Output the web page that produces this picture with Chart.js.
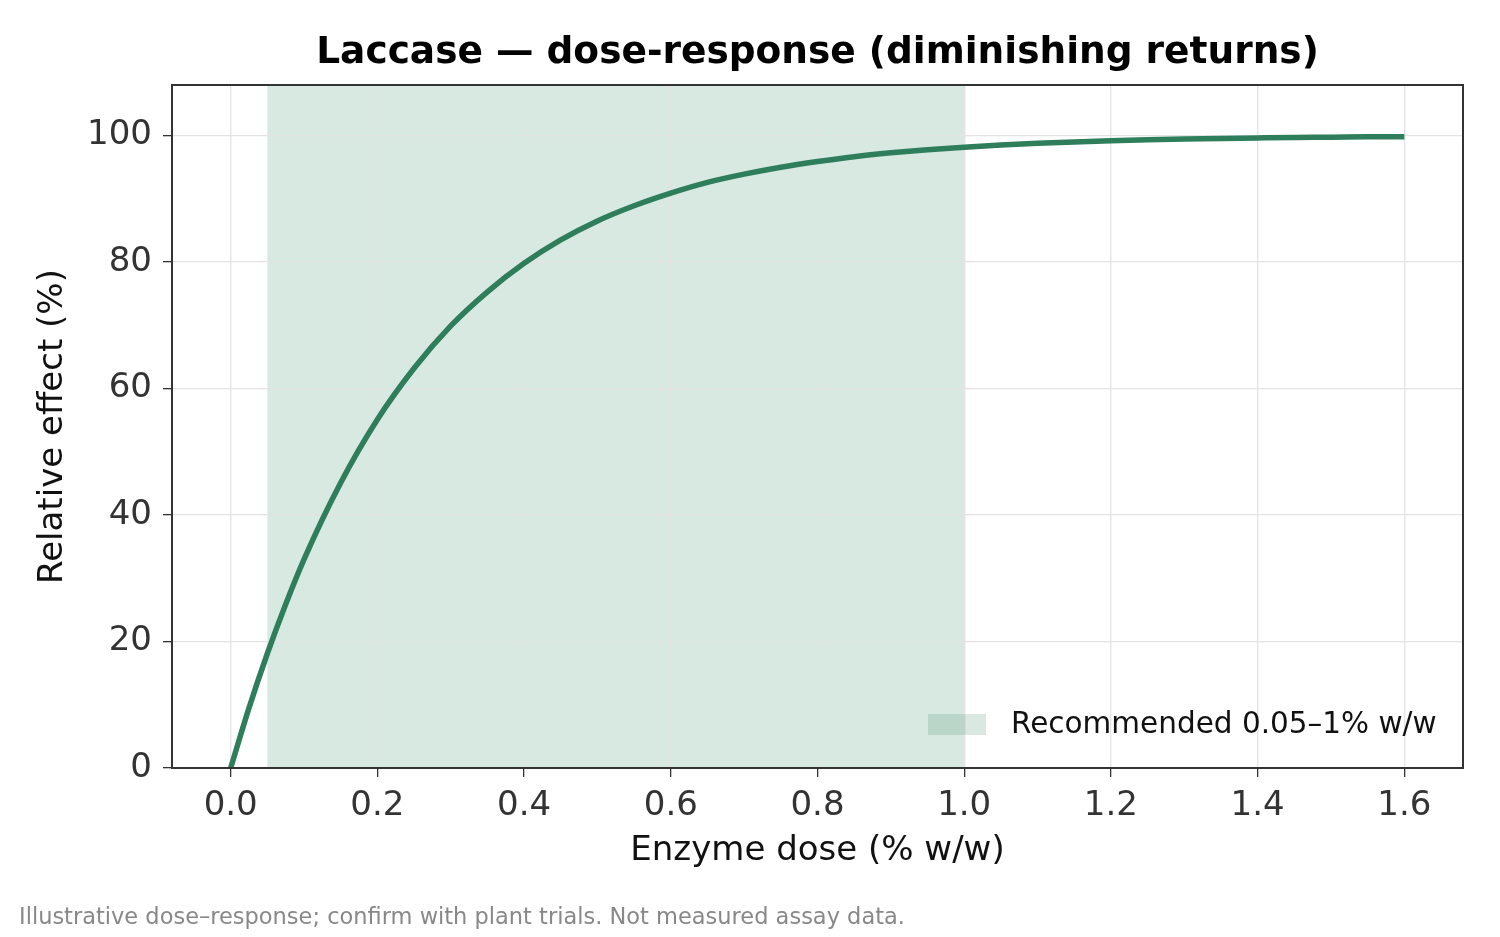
<!DOCTYPE html>
<html>
<head>
<meta charset="utf-8">
<script src="https://cdn.jsdelivr.net/npm/chart.js@4.4.1/dist/chart.umd.min.js"></script>
<style>
  html, body { margin: 0; padding: 0; background: #fff; }
  #wrap { width: 1500px; height: 937px; }
</style>
</head>
<body>
<div id="wrap"><canvas id="doseChart" width="1500" height="937"></canvas></div>
<script>
// Dose (% w/w) and relative effect (%)
const doses = [0, 0.025, 0.05, 0.075, 0.1, 0.15, 0.2, 0.25, 0.3, 0.35, 0.4, 0.45, 0.5, 0.55, 0.6, 0.65, 0.7, 0.75, 0.8,
    0.85, 0.9, 0.95, 1.0, 1.05, 1.1, 1.15, 1.2, 1.25, 1.3, 1.35, 1.4, 1.45, 1.5, 1.55, 1.6];
const effects = [0, 9.5, 18.1, 25.9, 33.0, 45.1, 55.1, 63.2, 69.9, 75.3, 79.8, 83.5, 86.5, 88.9, 90.9, 92.6, 93.9, 95.0, 95.9,
    96.67, 97.27, 97.76, 98.17, 98.50, 98.77, 98.99, 99.18, 99.33, 99.45, 99.55, 99.63, 99.70, 99.75, 99.80, 99.83];

const recommendedRange = [0.05, 1.0];
const xTicks = [0, 0.2, 0.4, 0.6, 0.8, 1.0, 1.2, 1.4, 1.6];
const yTicks = [0, 20, 40, 60, 80, 100];

const FONT = "'DejaVu Sans', sans-serif";
const LINE_COLOR = '#2e7d5b';
const BAND_COLOR = '#d8e9e1';
const SWATCH_COLOR = 'rgba(46, 125, 91, 0.18)';

// Shaded band (under the grid), frame, legend, title and footnote
const decorPlugin = {
    id: 'decor',
    beforeDraw(chart) {
        const { ctx, chartArea, scales } = chart;
        const x0 = scales.x.getPixelForValue(recommendedRange[0]);
        const x1 = scales.x.getPixelForValue(recommendedRange[1]);
        ctx.save();
        ctx.fillStyle = BAND_COLOR;
        ctx.fillRect(x0, chartArea.top, x1 - x0, chartArea.bottom - chartArea.top);
        ctx.restore();
    },
    afterDraw(chart) {
        const { ctx, chartArea } = chart;
        ctx.save();
        // frame
        ctx.strokeStyle = '#333';
        ctx.lineWidth = 2;
        ctx.strokeRect(chartArea.left, chartArea.top, chartArea.right - chartArea.left, chartArea.bottom - chartArea.top);

        // legend
        ctx.fillStyle = SWATCH_COLOR;
        ctx.fillRect(chartArea.right - 535, chartArea.bottom - 54, 58, 21);
        ctx.fillStyle = '#111';
        ctx.font = `29.5px ${FONT}`;
        ctx.textBaseline = 'middle';
        ctx.textAlign = 'left';
        ctx.fillText('Recommended 0.05\u20131% w/w', chartArea.right - 452, chartArea.bottom - 43);

        // title
        ctx.font = `bold 37.5px ${FONT}`;
        ctx.textAlign = 'center';
        ctx.fillStyle = '#000';
        ctx.fillText('Laccase \u2014 dose-response (diminishing returns)', (chartArea.left + chartArea.right) / 2, 53);

        // footnote
        ctx.font = `22.5px ${FONT}`;
        ctx.textAlign = 'left';
        ctx.fillStyle = '#888';
        ctx.fillText('Illustrative dose\u2013response; confirm with plant trials. Not measured assay data.', 19, 918);
        ctx.restore();
    }
};

new Chart(document.getElementById('doseChart'), {
    type: 'line',
    data: {
        datasets: [{
            label: 'Relative effect',
            data: doses.map((d, i) => ({ x: d, y: effects[i] })),
            borderColor: LINE_COLOR,
            borderWidth: 5.5,
            pointRadius: 0,
            cubicInterpolationMode: 'monotone',
            fill: false
        }]
    },
    options: {
        responsive: false,
        animation: false,
        layout: { padding: { top: 85, right: 37, bottom: 60, left: 0 } },
        plugins: {
            legend: { display: false },
            tooltip: { enabled: false }
        },
        scales: {
            x: {
                type: 'linear',
                min: -0.08,
                max: 1.68,
                afterBuildTicks: (scale) => { scale.ticks = xTicks.map(v => ({ value: v })); },
                afterFit: (scale) => { scale.height = 109; },
                ticks: {
                    color: '#333',
                    font: { family: FONT, size: 34 },
                    padding: 9,
                    maxRotation: 0,
                    callback: (v) => v.toFixed(1)
                },
                grid: { color: '#e4e2e2', lineWidth: 1.3, tickColor: '#333', tickLength: 9 },
                border: { color: '#333', width: 2 },
                title: {
                    display: true,
                    text: 'Enzyme dose (% w/w)',
                    color: '#111',
                    font: { family: FONT, size: 34 },
                    padding: { top: 0, bottom: 5 }
                }
            },
            y: {
                min: 0,
                max: 108,
                afterBuildTicks: (scale) => { scale.ticks = yTicks.map(v => ({ value: v })); },
                afterFit: (scale) => { scale.width = 172; },
                ticks: {
                    color: '#333',
                    font: { family: FONT, size: 34 },
                    padding: 11
                },
                grid: { color: '#e4e2e2', lineWidth: 1.3, tickColor: '#333', tickLength: 9 },
                border: { color: '#333', width: 2 },
                title: {
                    display: true,
                    text: 'Relative effect (%)',
                    color: '#111',
                    font: { family: FONT, size: 34 },
                    padding: { top: 33, bottom: 0 }
                }
            }
        }
    },
    plugins: [decorPlugin]
});
</script>
</body>
</html>
